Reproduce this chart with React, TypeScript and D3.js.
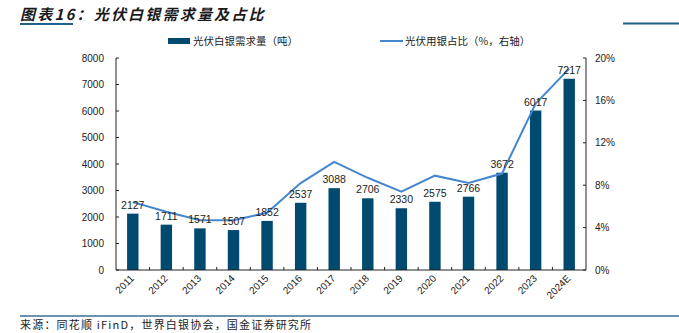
import React from "react";
import * as d3 from "d3";

const categories = ["2011","2012","2013","2014","2015","2016","2017","2018","2019","2020","2021","2022","2023","2024E"];
const demand = [2127,1711,1571,1507,1852,2537,3088,2706,2330,2575,2766,3672,6017,7217];
const share = [6.4,5.5,4.7,4.7,5.4,8.2,10.2,8.7,7.4,8.9,8.2,9.1,15.7,19.0];
const leftTicks = [0,1000,2000,3000,4000,5000,6000,7000,8000];
const rightTicks = [0,4,8,12,16,20];

const W = 679, H = 333;
const L = 116, R = 586, T = 58, B = 270;
const barColor = "#004a70";
const lineColor = "#4587cf";
const font = "'Liberation Sans', Arial, sans-serif";
const cjk = "'Noto Sans CJK SC', 'Noto Sans', sans-serif";

export default function App() {
  const x = d3.scaleBand<string>().domain(categories).range([L, R]).padding(0);
  const yL = d3.scaleLinear().domain([0, 8000]).range([B, T]);
  const yR = d3.scaleLinear().domain([0, 20]).range([B, T]);
  const bw = x.bandwidth() * 0.34;
  const cx = (c: string) => (x(c) as number) + x.bandwidth() / 2;
  const line = d3.line<number>().x((_, i) => cx(categories[i])).y((d) => yR(d));

  return (
    <svg width={W} height={H} style={{ position: "absolute", left: 0, top: 0, background: "#fff" }}>
      {/* title */}
      <text x={20} y={20} fontFamily={cjk} fontSize={15} fontStyle="italic" fontWeight="bold" letterSpacing={2.2} fill="#1a1a1a">
        图表16：光伏白银需求量及占比
      </text>
      <line x1={20} x2={73} y1={24} y2={24} stroke="#1f5f8b" strokeWidth={2} />
      <line x1={623} x2={679} y1={23.5} y2={23.5} stroke="#1f5f8b" strokeWidth={2} />

      {/* legend */}
      <rect x={168} y={38} width={22} height={6} fill={barColor} />
      <text x={193} y={44.5} fontFamily={cjk} fontSize={10.5} fill="#222">光伏白银需求量（吨）</text>
      <line x1={380} x2={403} y1={41} y2={41} stroke={lineColor} strokeWidth={2} />
      <text x={405} y={44.5} fontFamily={cjk} fontSize={10.5} fill="#222">光伏用银占比（%，右轴）</text>

      {/* bars */}
      {demand.map((v, i) => (
        <rect key={i} x={cx(categories[i]) - bw / 2} y={yL(v)} width={bw} height={B - yL(v)} fill={barColor} />
      ))}

      {/* line */}
      <path d={line(share) || ""} fill="none" stroke={lineColor} strokeWidth={2} />

      {/* data labels */}
      {demand.map((v, i) => (
        <text key={i} x={cx(categories[i])} y={yL(v) - 5} textAnchor="middle" fontFamily={font} fontSize={10.5} fill="#222">
          {v}
        </text>
      ))}

      {/* axes */}
      <line x1={L} x2={L} y1={T} y2={B} stroke="#222" strokeWidth={1} />
      <line x1={R} x2={R} y1={T} y2={B} stroke="#222" strokeWidth={1} />
      <line x1={L} x2={R} y1={B} y2={B} stroke="#222" strokeWidth={1} />
      {leftTicks.map((t) => (
        <g key={t}>
          <line x1={L} x2={L + 3} y1={yL(t)} y2={yL(t)} stroke="#222" />
          <text x={104} y={yL(t) + 3.5} textAnchor="end" fontFamily={font} fontSize={10} fill="#222">{t}</text>
        </g>
      ))}
      {rightTicks.map((t) => (
        <g key={t}>
          <line x1={R - 3} x2={R} y1={yR(t)} y2={yR(t)} stroke="#222" />
          <text x={595} y={yR(t) + 3.5} textAnchor="start" fontFamily={font} fontSize={10} fill="#222">{t + "%"}</text>
        </g>
      ))}
      {categories.slice(1).map((c) => (
        <line key={c} x1={x(c) as number} x2={x(c) as number} y1={B} y2={B - 3} stroke="#222" />
      ))}
      {categories.map((c) => (
        <text key={c} transform={`translate(${cx(c) + 2},${B + 9}) rotate(-45)`} textAnchor="end" fontFamily={font} fontSize={10} fill="#222">
          {c}
        </text>
      ))}

      {/* footer */}
      <line x1={20} x2={679} y1={316} y2={316} stroke="#3a6f95" strokeWidth={1.5} />
      <text x={20} y={329} fontFamily={cjk} fontSize={11} letterSpacing={1.2} fill="#222">
        来源：同花顺 iFinD，世界白银协会，国金证券研究所
      </text>
    </svg>
  );
}
